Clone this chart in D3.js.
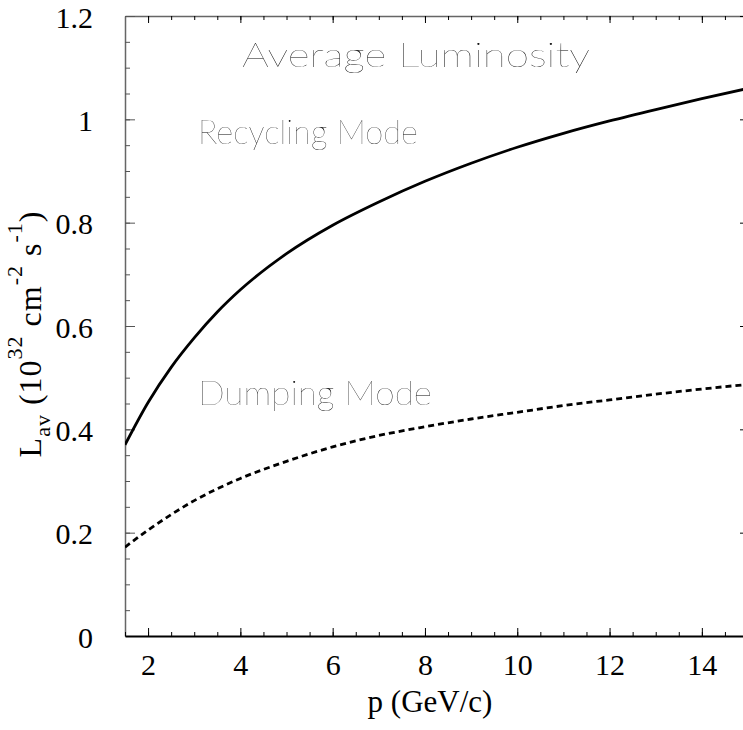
<!DOCTYPE html>
<html>
<head>
<meta charset="utf-8">
<script src="https://cdn.jsdelivr.net/npm/d3@7"></script>
<style>
  body { margin: 0; background: #fff; }
  svg { display: block; }
  .tick text { font-family: "Liberation Serif", "Times New Roman", serif; font-size: 30px; fill: #000; }
  .note { font-family: Lato, "Open Sans", sans-serif; font-weight: 200; font-size: 33px; fill: #000; filter: grayscale(100%); }
</style>
</head>
<body>
<div id="chart"></div>
<script>
// momentum values (GeV/c) and average luminosity
const momentum  = [1.5, 2, 2.5, 3, 3.5, 4, 5, 6, 7, 8, 9, 10, 11, 12, 13, 14, 15];
const recycling = [0.37, 0.452, 0.52, 0.577, 0.627, 0.67, 0.74, 0.795, 0.84, 0.88, 0.915, 0.946, 0.973, 0.997, 1.019, 1.04, 1.06];
const dumping   = [0.172, 0.205, 0.235, 0.262, 0.285, 0.305, 0.338, 0.366, 0.388, 0.405, 0.42, 0.433, 0.446, 0.457, 0.468, 0.478, 0.487];

const xMajor = [2, 4, 6, 8, 10, 12, 14];
const yMajor = [0, 0.2, 0.4, 0.6, 0.8, 1, 1.2];
const yLabels = ["0", "0.2", "0.4", "0.6", "0.8", "1", "1.2"];

const width = 743, height = 730;
const plot = { left: 125, right: 748, top: 16, bottom: 636 };

let svg = d3.select("#chart")
    .append("svg")
    .attr("width", width)
    .attr("height", height);

svg.append("rect").attr("width", width).attr("height", height).attr("fill", "#fff");

let x = d3.scaleLinear()
    .domain([1.5, 15])
    .range([plot.left, plot.right]);

let y = d3.scaleLinear()
    .domain([0, 1.2])
    .range([plot.bottom, plot.top]);

const xMinor = d3.range(1.5, 15.01, 0.5);
const yMinor = d3.range(0, 1.201, 0.05);

svg.append("clipPath").attr("id", "clip")
  .append("rect")
    .attr("x", plot.left).attr("y", plot.top)
    .attr("width", plot.right - plot.left).attr("height", plot.bottom - plot.top);

// top axis (ticks only)
svg.append("g")
    .attr("transform", `translate(0,${plot.top})`)
    .call(d3.axisBottom(x).tickValues(xMinor).tickSize(4).tickSizeOuter(0).tickFormat(""))
    .call(g => g.select(".domain").attr("stroke", "#666").attr("stroke-width", 1.5));
svg.append("g")
    .attr("transform", `translate(0,${plot.top})`)
    .call(d3.axisBottom(x).tickValues(xMajor).tickSize(7).tickSizeOuter(0).tickFormat(""))
    .call(g => g.select(".domain").remove());

// right axis (ticks only, mostly off the edge)
svg.append("g")
    .attr("transform", `translate(${plot.right},0)`)
    .call(d3.axisLeft(y).tickValues(yMinor).tickSize(4).tickSizeOuter(0).tickFormat(""));
svg.append("g")
    .attr("transform", `translate(${plot.right},0)`)
    .call(d3.axisLeft(y).tickValues(yMajor).tickSize(8).tickSizeOuter(0).tickFormat(""));

// left axis
svg.append("g")
    .attr("transform", `translate(${plot.left},0)`)
    .call(d3.axisLeft(y).tickValues(yMinor).tickSize(-5).tickSizeOuter(0).tickFormat(""))
    .call(g => g.select(".domain").attr("stroke", "#666").attr("stroke-width", 1.5))
    .call(g => g.selectAll(".tick line").attr("stroke", "#555"));
svg.append("g")
    .attr("transform", `translate(${plot.left},0)`)
    .call(d3.axisLeft(y).tickValues(yMajor).tickSize(-10).tickSizeOuter(0).tickPadding(32)
        .tickFormat((d, i) => yLabels[i]))
    .call(g => g.select(".domain").remove())
    .call(g => g.selectAll(".tick line").attr("stroke", "#555"))
    .call(g => g.selectAll(".tick text").attr("dy", "0.37em"));

// bottom axis
svg.append("g")
    .attr("transform", `translate(0,${plot.bottom})`)
    .call(d3.axisBottom(x).tickValues(xMinor).tickSize(-4).tickSizeOuter(0).tickFormat(""))
    .call(g => g.select(".domain").attr("stroke", "#000").attr("stroke-width", 2.2));
svg.append("g")
    .attr("transform", `translate(0,${plot.bottom})`)
    .call(d3.axisBottom(x).tickValues(xMajor).tickSize(-8).tickSizeOuter(0).tickPadding(18)
        .tickFormat(d3.format("d")))
    .call(g => g.select(".domain").remove());

svg.selectAll(".tick text").attr("font-size", null).attr("font-family", null);

// curves
let line = d3.line()
    .x((d, i) => x(momentum[i]))
    .y(d => y(d))
    .curve(d3.curveMonotoneX);

svg.append("path")
    .datum(recycling)
    .attr("clip-path", "url(#clip)")
    .attr("fill", "none")
    .attr("stroke", "#000")
    .attr("stroke-width", 2.8)
    .attr("d", line);

svg.append("path")
    .datum(dumping)
    .attr("clip-path", "url(#clip)")
    .attr("fill", "none")
    .attr("stroke", "#000")
    .attr("stroke-width", 2.8)
    .attr("stroke-dasharray", "6,4")
    .attr("d", line);

// annotations
svg.append("text").attr("class", "note")
    .attr("x", 242).attr("y", 67)
    .attr("textLength", 348).attr("lengthAdjust", "spacingAndGlyphs")
    .text("Average Luminosity");
svg.append("text").attr("class", "note")
    .attr("x", 198).attr("y", 144)
    .attr("textLength", 220).attr("lengthAdjust", "spacingAndGlyphs")
    .text("Recycling Mode");
svg.append("text").attr("class", "note")
    .attr("x", 198).attr("y", 405)
    .attr("textLength", 234).attr("lengthAdjust", "spacingAndGlyphs")
    .text("Dumping Mode");

// axis titles
svg.append("text")
    .attr("x", 430).attr("y", 712)
    .attr("text-anchor", "middle")
    .style("font-family", "'Liberation Serif', 'Times New Roman', serif")
    .style("font-size", "31px")
    .text("p (GeV/c)");

let ylab = svg.append("text")
    .attr("transform", "translate(41,334) rotate(-90)")
    .attr("text-anchor", "middle")
    .style("font-family", "'Liberation Serif', 'Times New Roman', serif")
    .style("font-size", "32px")
    .style("letter-spacing", "1px");
ylab.append("tspan").text("L");
ylab.append("tspan").attr("dy", 9).style("font-size", "22px").text("av");
ylab.append("tspan").attr("dy", -9).text(" (10");
ylab.append("tspan").attr("dy", -19).style("font-size", "22px").text("32");
ylab.append("tspan").attr("dy", 19).text(" cm");
ylab.append("tspan").attr("dy", -19).style("font-size", "22px").text("-2");
ylab.append("tspan").attr("dy", 19).text(" s");
ylab.append("tspan").attr("dy", -19).style("font-size", "22px").text("-1");
ylab.append("tspan").attr("dy", 19).text(")");
</script>
</body>
</html>
